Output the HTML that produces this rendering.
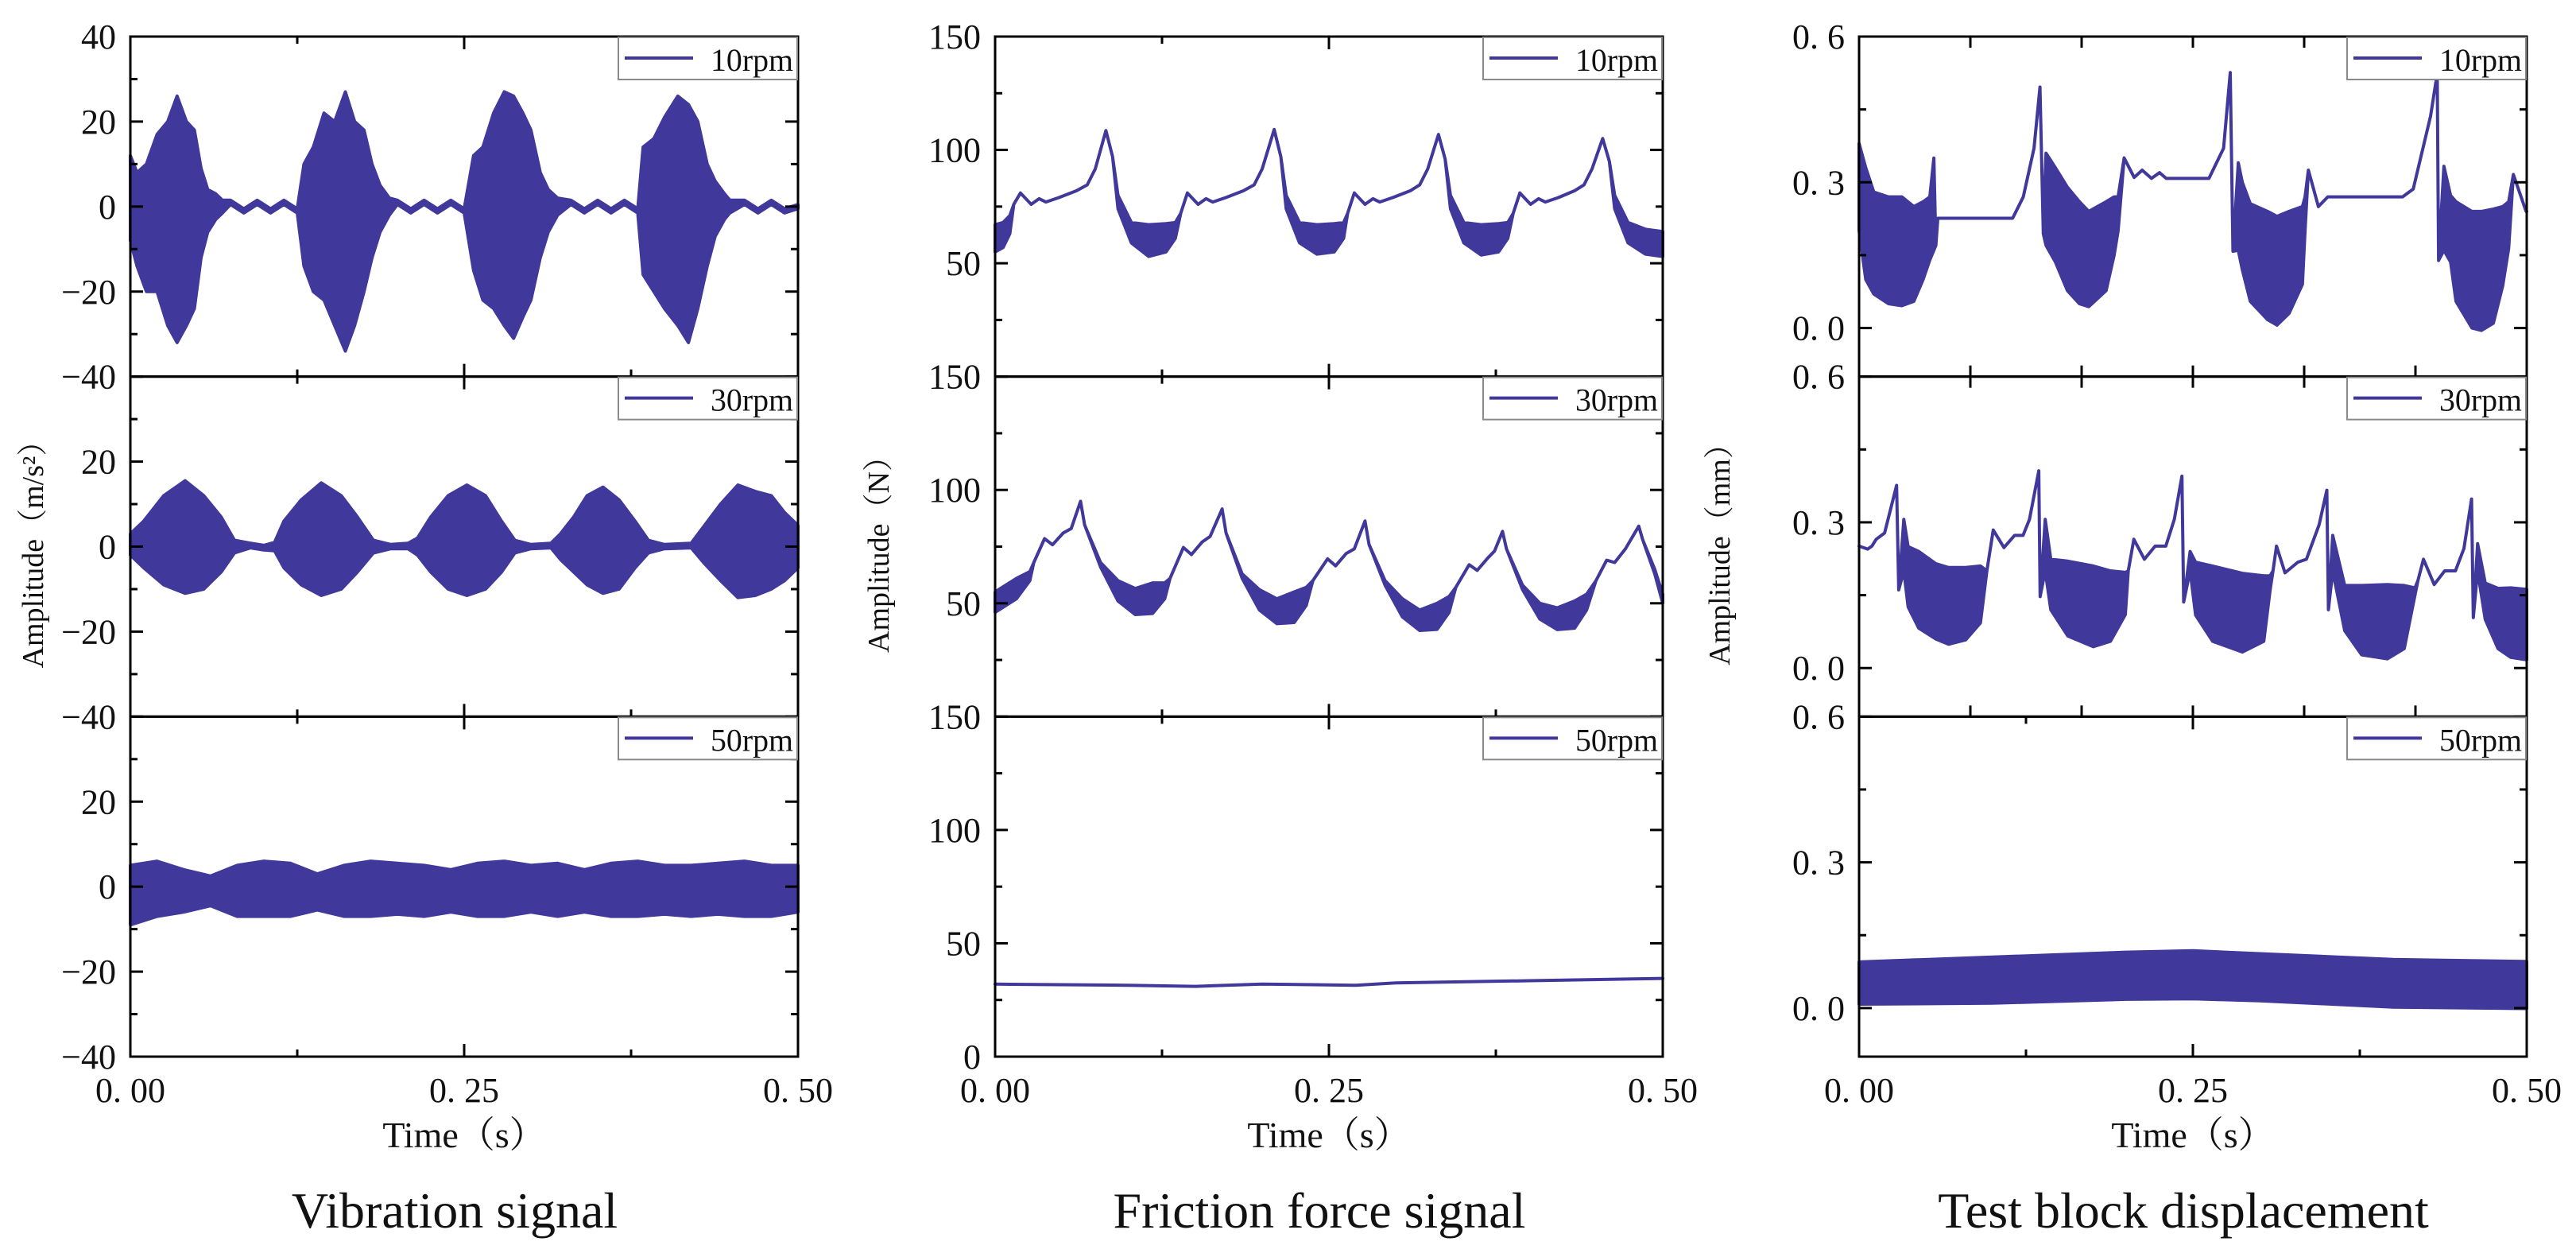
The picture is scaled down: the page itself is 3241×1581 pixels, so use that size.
<!DOCTYPE html>
<html><head><meta charset="utf-8">
<style>
html,body{margin:0;padding:0;background:#fff;}
svg{display:block;}
text{font-family:"Liberation Serif","Noto Serif CJK SC",serif;fill:#111;}
</style></head>
<body>
<svg id="fig" width="3241" height="1581" viewBox="0 0 3241 1581" xmlns="http://www.w3.org/2000/svg">
<rect width="3241" height="1581" fill="#fff"/>
</svg>
<script>
// ===== Vibration (m/s^2) =====
const T_A1=[0,0.005,0.012,0.020,0.028,0.035,0.042,0.048,0.053,0.058,0.064,0.069,0.075,0.085,0.095,0.105,0.115,0.125,0.130,0.137,0.145,0.153,0.161,0.168,0.175,0.181,0.187,0.194,0.200,0.210,0.220,0.230,0.240,0.250,0.257,0.264,0.272,0.280,0.287,0.294,0.300,0.307,0.313,0.320,0.330,0.340,0.350,0.360,0.370,0.380,0.384,0.392,0.400,0.410,0.418,0.425,0.432,0.438,0.445,0.449,0.460,0.470,0.480,0.490,0.500];
const HI_A1=[12,8,10,17,20,26,20,18,9,4,3,1.5,1.5,-0.5,1.5,-0.5,1.5,-0.5,10,14,22,20,27,20,18,10,5,2,1.5,-0.5,1.5,-0.5,1.5,-0.5,12,14,22,27,26,22,18,8,4,2,1.5,-0.5,1.5,-0.5,1.5,-0.5,14,16,21,26,24,20,10,6,3,1.5,1.5,-0.5,1.5,-0.5,0.5];
const LO_A1=[-8,-14,-20,-20,-28,-32,-28,-24,-12,-6,-3,-1.5,0.5,-1.5,0.5,-1.5,0.5,-1.5,-14,-20,-22,-28,-34,-28,-20,-12,-6,-2,0.5,-1.5,0.5,-1.5,0.5,-1.5,-15,-22,-24,-28,-31,-26,-22,-12,-6,-2,0.5,-1.5,0.5,-1.5,0.5,-1.5,-16,-20,-24,-28,-32,-24,-14,-7,-3,-1.5,0.5,-1.5,0.5,-1.5,-0.5];

const T_A2=[0,0.010,0.025,0.041,0.055,0.068,0.078,0.090,0.100,0.108,0.115,0.128,0.143,0.158,0.170,0.182,0.195,0.208,0.215,0.225,0.238,0.252,0.266,0.278,0.288,0.300,0.315,0.322,0.332,0.342,0.354,0.366,0.378,0.388,0.400,0.420,0.430,0.442,0.455,0.468,0.480,0.490,0.500];
const HI_A2=[3,6,12,15.5,12,7,1.5,0.8,0.3,1,6,11,15,12,7,1.5,0.5,0.8,2,7,12,14.5,12,6,1.5,0.5,0.8,3,7,12,14,11,6,1.5,0.5,0.8,5,10,14.5,13,12,8,5];
const LO_A2=[-2,-5,-9,-11,-10,-6,-1.5,-0.3,-0.8,-1,-5,-9,-11.5,-10,-6,-1.5,-0.5,-0.5,-2,-6,-10,-11.5,-10,-6,-1.5,-0.5,-0.3,-3,-6,-9,-11,-10,-5,-1.5,-0.5,-0.3,-4,-8,-12,-11.5,-10,-8,-5];

const T_A3=[0,0.02,0.04,0.06,0.08,0.10,0.12,0.14,0.16,0.18,0.20,0.22,0.24,0.26,0.28,0.30,0.32,0.34,0.36,0.38,0.40,0.42,0.44,0.46,0.48,0.50];
const HI_A3=[5,6,4,2.5,5,6,5.5,3,5,6,5.5,5,4,5.5,6,5,5.5,4,5.5,6,5,5,5.5,6,5,5];
const LO_A3=[-9,-7,-6,-4.5,-7,-7,-7,-5.5,-7,-7,-6.5,-7,-6,-7,-7,-6,-7,-6,-7,-7,-6.5,-7,-6.5,-7,-7,-6];

// ===== Friction force (N) =====
const T_B1=[0,0.006,0.011,0.014,
0.019,0.027,0.033,0.038,0.048,0.061,0.069,0.075,0.083,0.088,0.092,0.102,0.115,0.128,0.135,0.139,
0.144,0.152,0.158,0.163,0.173,0.186,0.194,0.200,0.209,0.214,0.218,0.228,0.241,0.254,0.261,0.264,
0.269,0.277,0.283,0.288,0.298,0.311,0.318,0.324,0.332,0.337,0.341,0.351,0.364,0.377,0.384,0.388,
0.393,0.401,0.407,0.412,0.422,0.434,0.441,0.447,0.455,0.460,0.464,0.474,0.487,0.500];
const HI_B1=[67,68,71,76,
81,76,78.5,77,79,82,84.6,91.6,108.5,97,80,68,67,67.5,68,72,
81,76,78.5,77,79,82,84.6,91.6,109,97,80,68,67,67.5,68,72,
81,76,78.5,77,79,82,84.6,91.6,106.8,96,80,68,67,67.5,68,72,
81,76,78.5,77,79,82,84.6,91.6,105,95,80,68,65,64];
const LO_B1=[55,57,63,null,
null,null,null,null,null,null,null,null,null,null,74,59,53,55,61,null,
null,null,null,null,null,null,null,null,null,null,74,59,54,55,61,null,
null,null,null,null,null,null,null,null,null,null,74,59,53.6,55,61,null,
null,null,null,null,null,null,null,null,null,null,74,59,54,53];

const T_B2=[0,0.016,0.026,0.029,
0.037,0.043,0.051,0.057,0.064,0.067,0.079,0.092,0.105,0.118,0.127,0.131,
0.141,0.147,0.155,0.161,0.170,0.173,0.185,0.198,0.211,0.224,0.233,0.238,
0.249,0.255,0.263,0.269,0.277,0.280,0.292,0.305,0.318,0.331,0.340,0.345,
0.355,0.361,0.369,0.374,0.380,0.383,0.395,0.408,0.421,0.434,0.443,0.450,
0.458,0.464,0.472,0.482,0.485,0.494,0.500];
const HI_B2=[55,61,64,68,
78.5,75.8,81,83,95,84.6,68,60,56.5,59,59,61,
74.6,71.5,77,79.5,91.6,81,63,56,52,55,57,60,
69.6,66.5,72,74,86.3,76,60,52,47,50,53,57,
67,64.5,70,73,81.7,74,58,50,48,51,54,60,
69,68,74,84,78,65,54];
const LO_B2=[46,52,60,null,
null,null,null,null,null,null,66,51,45,45.5,52,null,
null,null,null,null,null,null,61,47,41,41.5,49,null,
null,null,null,null,null,null,58,44,38,38.5,46,null,
null,null,null,null,null,null,56,43,38.4,39,47,null,
null,null,null,null,null,63,50];

const T_B3=[0,0.1,0.15,0.2,0.27,0.3,0.4,0.5];
const HI_B3=[32,31.5,31,32,31.5,32.5,33.5,34.5];
const LO_B3=[null,null,null,null,null,null,null,null];

// ===== Test block displacement (mm) =====
const T_C1=[0,0.005,0.011,0.022,0.032,0.041,0.048,0.053,0.056,0.0575,0.059,0.115,0.123,0.131,0.1355,0.138,
0.140,0.147,0.156,0.165,0.172,0.185,0.191,0.194,
0.1985,0.206,0.212,0.219,0.225,0.230,0.262,0.273,0.278,0.280,
0.284,0.287,0.293,0.306,0.313,0.322,0.332,0.334,
0.3365,0.344,0.351,0.407,0.415,0.428,0.433,0.434,
0.438,0.443,0.447,0.459,0.466,0.475,0.482,0.4865,
0.490,0.4995,0.500];
const HI_C1=[0.38,0.33,0.28,0.27,0.27,0.25,0.26,0.27,0.35,0.17,0.226,0.226,0.27,0.37,0.496,0.194,
0.36,0.33,0.29,0.26,0.24,0.26,0.27,0.27,
0.35,0.31,0.325,0.308,0.32,0.308,0.308,0.37,0.526,0.158,
0.34,0.30,0.256,0.24,0.23,0.24,0.25,0.27,
0.325,0.25,0.27,0.27,0.286,0.436,0.524,0.139,
0.333,0.273,0.26,0.24,0.24,0.245,0.25,0.26,
0.316,0.24,0.24];
const LO_C1=[0.20,0.10,0.07,0.05,0.046,0.055,0.10,0.14,0.16,null,null,null,null,null,null,null,
0.17,0.136,0.077,0.05,0.044,0.077,0.15,0.20,
null,null,null,null,null,null,null,null,null,null,
0.16,0.12,0.055,0.017,0.006,0.03,0.09,0.20,
null,null,null,null,null,null,null,null,
0.16,0.136,0.055,0.0,-0.005,0.01,0.087,0.164,
null,null,null];

const T_C2=[0,0.0064,0.0096,0.0128,0.0191,0.0281,0.0297,
0.0335,0.0367,0.0447,0.0574,0.067,0.0798,0.0909,0.0957,
0.1005,0.1085,0.1164,0.1228,0.1276,0.1346,0.1356,
0.1394,0.1436,0.1563,0.1755,0.1882,0.1994,0.2016,
0.2058,0.2137,0.2217,0.2297,0.2361,0.2418,0.2431,
0.2479,0.252,0.2648,0.2871,0.3031,0.3078,0.31,
0.3126,0.319,0.3286,0.335,0.3445,0.3503,0.3515,
0.3547,0.3637,0.3764,0.3956,0.4083,0.4163,0.4185,
0.4227,0.4307,0.4386,0.4466,0.453,0.4587,0.46,
0.4632,0.4689,0.4785,0.4881,0.5];
const HI_C2=[0.251,0.245,0.251,0.265,0.278,0.376,0.161,
0.306,0.25,0.24,0.215,0.207,0.207,0.21,0.2,
0.284,0.248,0.273,0.273,0.306,0.406,0.147,
0.306,0.224,0.22,0.21,0.2,0.197,0.2,
0.265,0.224,0.251,0.251,0.306,0.395,0.136,
0.24,0.218,0.21,0.195,0.19,0.19,0.2,
0.251,0.196,0.218,0.224,0.295,0.366,0.12,
0.273,0.17,0.17,0.172,0.17,0.165,0.18,
0.224,0.172,0.2,0.2,0.246,0.348,0.104,
0.256,0.175,0.164,0.165,0.162];
const LO_C2=[null,null,null,null,null,null,null,
0.20,0.126,0.082,0.06,0.049,0.058,0.093,null,
null,null,null,null,null,null,null,
0.20,0.12,0.066,0.044,0.055,0.11,null,
null,null,null,null,null,null,null,
0.20,0.109,0.055,0.033,0.055,0.16,null,
null,null,null,null,null,null,null,
0.20,0.077,0.027,0.019,0.04,0.15,null,
null,null,null,null,null,null,null,
0.20,0.10,0.04,0.022,0.017];

const T_C3=[0,0.1,0.2,0.25,0.3,0.4,0.5];
const HI_C3=[0.095,0.105,0.115,0.118,0.112,0.100,0.096];
const LO_C3=[0.008,0.010,0.018,0.019,0.015,0.002,-0.001];

// ===== Axis config =====
const X_TICK_LABELS=["0. 00","0. 25","0. 50"];
const X_TICK_VALUES=[0,0.25,0.5];
const COL_Y_MAJOR=[[-40,-20,0,20,40],[0,50,100,150],[0,0.3,0.6]];
const COL_Y_MINOR=[[-30,-10,10,30],[25,75,125],[0.15,0.45]];
const COL_Y_LABELS=[["−40","−20","0","20","40"],["0","50","100","150"],["0. 0","0. 3","0. 6"]];
const RPM_LABELS=["10rpm","30rpm","50rpm"];
const CAPTIONS=["Vibration signal","Friction force signal","Test block displacement"];
const Y_TITLES=["Amplitude（m/s²）","Amplitude（N）","Amplitude（mm）"];

const NS="http://www.w3.org/2000/svg";
const svg=document.getElementById('fig');
const COLOR="#40389a";
const colX=[164,1252,2339], PW=840;
const TOP=46, BOT=1329, RH=(BOT-TOP)/3;
const yRanges=[[-40,40],[0,150],[-0.1,0.6]];
const series=[
 [[T_A1,HI_A1,LO_A1],[T_A2,HI_A2,LO_A2],[T_A3,HI_A3,LO_A3]],
 [[T_B1,HI_B1,LO_B1],[T_B2,HI_B2,LO_B2],[T_B3,HI_B3,LO_B3]],
 [[T_C1,HI_C1,LO_C1],[T_C2,HI_C2,LO_C2],[T_C3,HI_C3,LO_C3]]
];
function mk(tag,attrs,parent){const e=document.createElementNS(NS,tag);for(const k in attrs)e.setAttribute(k,attrs[k]);(parent||svg).appendChild(e);return e;}

for(let c=0;c<3;c++){
  const x0=colX[c], x1=x0+PW;
  const xs=t=>x0+t/0.5*PW;
  for(let r=0;r<3;r++){
    const y0=TOP+r*RH, y1=y0+RH;
    const [ymin,ymax]=yRanges[c];
    const ys=v=>y1-(v-ymin)/(ymax-ymin)*RH;
    const g=mk('g',{});
    
    
    const [T,HI,LO]=series[c][r];
    let d='';
    for(let i=0;i<T.length;i++){d+=(i?'L':'M')+xs(T[i]).toFixed(1)+' '+ys(HI[i]).toFixed(1);}
    for(let i=T.length-1;i>=0;i--){const lo=(LO[i]===null?HI[i]:LO[i]);d+='L'+xs(T[i]).toFixed(1)+' '+ys(lo).toFixed(1);}
    d+='Z';
    const p=mk('path',{d:d,fill:COLOR,stroke:COLOR,'stroke-width':4,'stroke-linejoin':'round'},g);
    
    
    COL_Y_MAJOR[c].forEach((v,i)=>{
      const y=ys(v);
      mk('line',{x1:x0,x2:x0+16,y1:y,y2:y,stroke:'#000','stroke-width':3},g);
      mk('line',{x1:x1,x2:x1-16,y1:y,y2:y,stroke:'#000','stroke-width':3},g);
      let show=true;
      if(c===0&&r>0&&v===40)show=false;
      if(c===1&&r<2&&v===0)show=false;
      if(show){
        const tx=mk('text',{x:x0-18,y:y+15,'text-anchor':'end','font-size':44},g);
        tx.textContent=COL_Y_LABELS[c][i];
        
        
      }
    });
    COL_Y_MINOR[c].forEach(v=>{
      const y=ys(v);
      mk('line',{x1:x0,x2:x0+9,y1:y,y2:y,stroke:'#000','stroke-width':3},g);
      mk('line',{x1:x1,x2:x1-9,y1:y,y2:y,stroke:'#000','stroke-width':3},g);
    });
    const fine=(c===2&&r<2);
    const xt=fine?[1/12,2/12,3/12,4/12,5/12].map(f=>f*0.5*2):[0.125,0.25,0.375];
    xt.forEach(t=>{
      const L=(!fine&&t===0.25)?16:(fine?14:9);
      const x=xs(t);
      mk('line',{x1:x,x2:x,y1:y0,y2:y0+L,stroke:'#000','stroke-width':3},g);
      mk('line',{x1:x,x2:x,y1:y1,y2:y1-L,stroke:'#000','stroke-width':3},g);
    });
    mk('rect',{x:x0,y:y0,width:PW,height:RH,fill:'none',stroke:'#000','stroke-width':3},g);
    const lg=mk('g',{},g);
    
    
    mk('rect',{x:x1-226,y:y0+1,width:225,height:53,fill:'#fff',stroke:'#8a8a8a','stroke-width':2},lg);
    mk('line',{x1:x1-218,x2:x1-132,y1:y0+27,y2:y0+27,stroke:COLOR,'stroke-width':4},lg);
    const lt=mk('text',{x:x1-110,y:y0+43,'font-size':40,textLength:104,lengthAdjust:'spacingAndGlyphs'},lg);
    lt.textContent=RPM_LABELS[r];
    if(r===2){
      X_TICK_VALUES.forEach((t,i)=>{
        const tx=mk('text',{x:xs(t),y:BOT+57,'text-anchor':'middle','font-size':44},g);
        tx.textContent=X_TICK_LABELS[i];
        
        
      });
    }
  }
  const cx=x0+PW/2;
  const xt=mk('text',{x:cx,y:1443,'text-anchor':'middle','font-size':46});
  xt.textContent="Time（s）";
  
  
  const cap=mk('text',{x:cx-12,y:1544,'text-anchor':'middle','font-size':64});
  cap.textContent=CAPTIONS[c];
  
  
  const ytx=[54,1118,2176][c];
  const yt=mk('text',{x:ytx,y:688,'text-anchor':'middle','font-size':38,transform:'rotate(-90 '+ytx+' 688)'});
  yt.textContent=Y_TITLES[c];
  
  
}
</script>
</body></html>
